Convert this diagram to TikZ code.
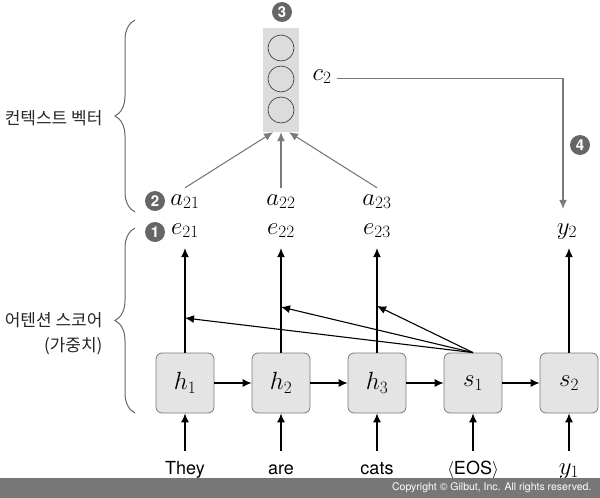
\documentclass[tikz,border=0pt]{standalone}
\usepackage{fontspec}
\setsansfont{TeX Gyre Heros}
\newfontfamily\kofont{Noto Sans CJK KR}
\usepackage{xcolor}
\usetikzlibrary{arrows.meta,decorations.pathreplacing}

\definecolor{boxgray}{HTML}{E4E4E4}
\definecolor{ctxgray}{HTML}{DCDCDC}
\definecolor{edgegray}{HTML}{7A7A7A}
\definecolor{markgray}{HTML}{666666}
\definecolor{bargray}{HTML}{777777}

\tikzset{
  cell/.style={draw=edgegray, fill=boxgray, rounded corners=6pt, line width=0.8pt,
    minimum width=58pt, minimum height=60pt, font=\fontsize{24}{28}\selectfont},
  word/.style={font=\sffamily\fontsize{18}{20}\selectfont, anchor=base,
    text height=13pt, text depth=4pt, inner ysep=10pt, inner xsep=1pt},
  lab/.style={font=\fontsize{24}{28}\selectfont, anchor=base,
    text height=9pt, text depth=6pt, inner ysep=8pt, inner xsep=1pt},
  numdot/.style={circle, fill=markgray, text=white, inner sep=0pt, minimum size=20pt,
    font=\sffamily\bfseries\fontsize{15}{15}\selectfont},
  unit/.style={circle, draw=black!80, line width=0.6pt, minimum size=26pt, inner sep=0pt},
  flow/.style={-{Latex[length=9pt,width=8pt]}, line width=1.1pt},
  ctx/.style={flow, draw=edgegray, -{Latex[length=9pt,width=8pt,fill=edgegray]}},
  curly/.style={decorate, decoration={brace, amplitude=20pt}, draw=markgray, line width=1pt},
  side/.style={font=\kofont\fontsize{17}{25}\selectfont, text=black!85, align=right},
}

\begin{document}
\begin{tikzpicture}[x=1pt, y=-1pt]
  \useasboundingbox (0,0) rectangle (600,498);

  % encoder / decoder cells
  \node[cell] (h1) at (185,383) {$h_1$};
  \node[cell] (h2) at (281,383) {$h_2$};
  \node[cell] (h3) at (377,383) {$h_3$};
  \node[cell] (s1) at (473,383) {$s_1$};
  \node[cell] (s2) at (569,383) {$s_2$};

  % inputs
  \node[word] (w1) at (185,474) {They};
  \node[word] (w2) at (281,474) {are};
  \node[word] (w3) at (377,474) {cats};
  \node[word] (w4) at (473,474) {$\langle$EOS$\rangle$};
  \node[word, font=\fontsize{24}{28}\selectfont] (w5) at (569,474) {$y_1$};

  % scores and weights
  \node[lab] (e1) at (185,234) {$e_{21}$};
  \node[lab] (e2) at (281,234) {$e_{22}$};
  \node[lab] (e3) at (377,234) {$e_{23}$};
  \node[lab] (a1) at (185,205) {$a_{21}$};
  \node[lab] (a2) at (281,205) {$a_{22}$};
  \node[lab] (a3) at (377,205) {$a_{23}$};
  \node[lab] (y2) at (567,234) {$y_2$};
  \node[lab] (c2) at (322,80) {$c_2$};

  % context vector
  \node[fill=ctxgray, minimum width=36pt, minimum height=104pt, inner sep=0pt] (cv) at (281,80) {};
  \node[unit] (u1) at (281,48) {};
  \node[unit] (u2) at (281,79) {};
  \node[unit] (u3) at (281,110) {};

  \node[numdot] (m1) at (155,232) {1};
  \node[numdot] (m2) at (155,201) {2};
  \node[numdot] (m3) at (282,12) {3};
  \node[numdot] (m4) at (580,145) {4};

  \coordinate (t1) at (185,318);
  \coordinate (t2) at (281,307);
  \coordinate (t3) at (377,306);

  \foreach \i/\j in {w1/h1, w2/h2, w3/h3, w4/s1, w5/s2, h1/h2, h2/h3, h3/s1, s1/s2}
    \draw[flow] (\i) -- (\j);
  \foreach \i/\j in {h1/e1, h2/e2, h3/e3}
    \draw[flow] (\i.north) -- (\j.south);
  \draw[flow] (s2.north) -- (s2.north |- y2.south);
  \foreach \t in {t1, t2, t3}
    \draw[flow] (s1.north) -- (\t);

  \draw[ctx] (a1.north) -- ([xshift=-8pt]cv.south);
  \draw[ctx] (a2.north) -- (cv.south);
  \draw[ctx] (a3.north) -- ([xshift=8pt]cv.south);
  \draw[ctx, shorten <=4pt, shorten >=8pt] (c2.east) -| ([xshift=-4pt]y2.north);

  % braces
  \draw[curly] (135,212) -- (135,20);
  \draw[curly] (135,413) -- (135,228);
  \node[side, anchor=east] (kc) at (106,118) {컨텍스트 벡터};
  \node[side, anchor=east] (ks) at (106,334) {어텐션 스코어\\(가중치)};

  \fill[bargray] (0,478) rectangle (600,498);
  \node[anchor=east, text=white, font=\sffamily\fontsize{10.5}{12}\selectfont] (cr) at (595,488)
    {Copyright © Gilbut, Inc. All rights reserved.};
\end{tikzpicture}
\end{document}
